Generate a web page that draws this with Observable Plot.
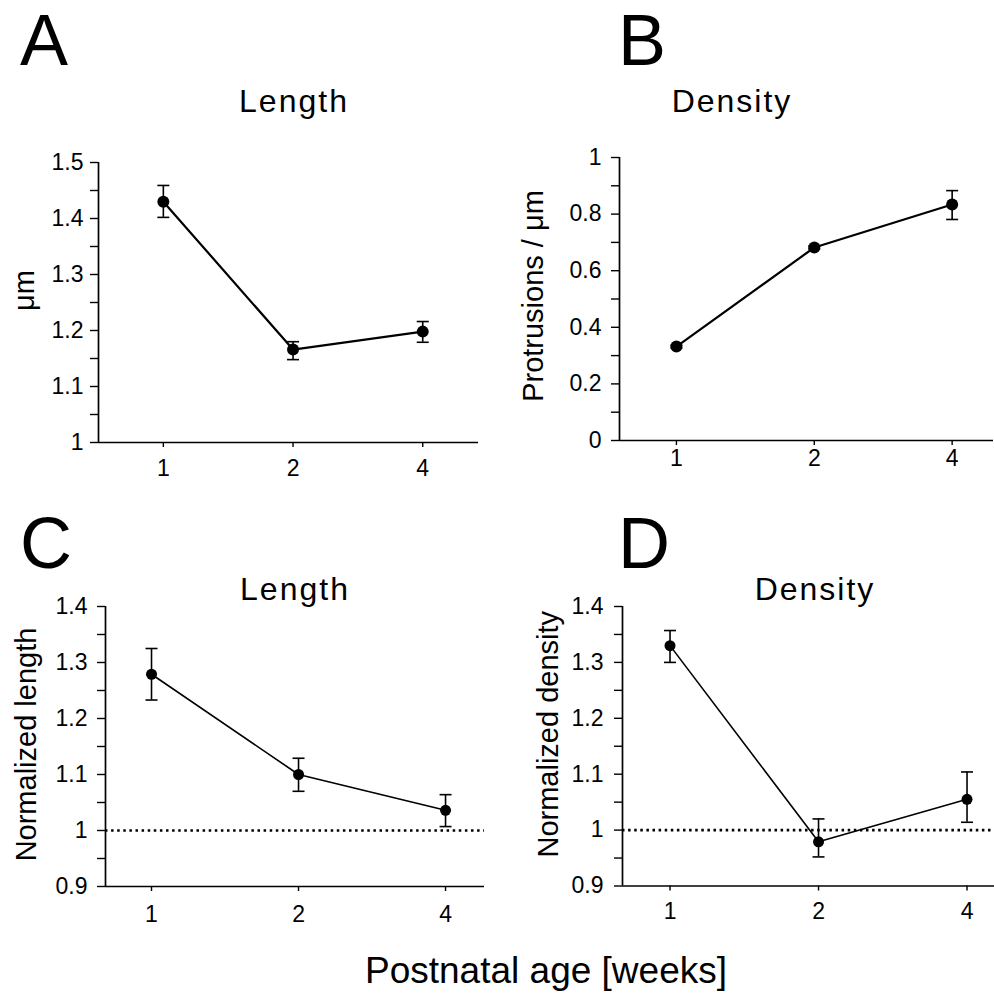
<!DOCTYPE html>
<html><head><meta charset="utf-8">
<script src="https://cdn.jsdelivr.net/npm/d3@7"></script>
<script src="https://cdn.jsdelivr.net/npm/@observablehq/plot@0.6"></script>
<style>
body{margin:0;background:#fff;}
#fig{position:relative;width:994px;height:995px;font-family:"Liberation Sans",Arial,sans-serif;color:#000;overflow:hidden;background:#fff}
.t{position:absolute;line-height:1;white-space:nowrap;text-align:center}
.p{position:absolute}
</style></head><body><div id="fig"></div>
<script>
const weeks = ["1", "2", "4"];
const lengthMean = [1.430, 1.166, 1.198];
const lengthLo = [1.402, 1.148, 1.179];
const lengthHi = [1.459, 1.180, 1.216];
const densityMean = [0.332, 0.682, 0.834];
const densityLo = [0.327, 0.677, 0.781];
const densityHi = [0.337, 0.687, 0.883];
const normLengthMean = [1.279, 1.100, 1.036];
const normLengthLo = [1.233, 1.070, 1.007];
const normLengthHi = [1.325, 1.129, 1.064];
const normDensityMean = [1.330, 0.979, 1.055];
const normDensityLo = [1.300, 0.952, 1.014];
const normDensityHi = [1.357, 1.020, 1.104];

const panelLetters = ["A", "B", "C", "D"];
const panelTitles = ["Length", "Density", "Length", "Density"];
const yLabels = ["μm", "Protrusions / μm", "Normalized length", "Normalized density"];
const xTitle = "Postnatal age [weeks]";

const fig = document.getElementById("fig");
const cap = {draw(ctx, size) { const r = Math.sqrt(size / Math.PI); ctx.moveTo(-r, 0); ctx.lineTo(r, 0); }};

function panel(c) {
  const data = weeks.map((w, i) => ({pos: i + 1, week: w, mean: c.mean[i], lo: c.lo[i], hi: c.hi[i]}));
  const marks = [
    Plot.axisY({ticks: c.yMajor, tickFormat: "~g", tickSize: 8, tickPadding: c.yPad, strokeWidth: 1.4, fontSize: 23, label: null}),
    Plot.axisY({ticks: c.yMinor, tickFormat: () => "", tickSize: 8, strokeWidth: 1.4, label: null}),
    Plot.axisX({ticks: [1, 2, 3], tickFormat: i => weeks[i - 1], tickSize: 5, tickPadding: c.xPad, strokeWidth: 1.4, fontSize: 23, label: null}),
    Plot.ruleX([c.xDomain[0]], {strokeWidth: 1.7}),
    Plot.ruleY([c.yDomain[0]], {strokeWidth: 1.7})
  ];
  if (c.ref) marks.push(Plot.ruleY([1], {strokeDasharray: "2.5,3.6", strokeWidth: 2.6}));
  marks.push(
    Plot.ruleX(data, {x: "pos", y1: "lo", y2: "hi", strokeWidth: 1.6}),
    Plot.dot(data, {x: "pos", y: "lo", symbol: cap, r: 6, stroke: "black", fill: "none", strokeWidth: 1.6}),
    Plot.dot(data, {x: "pos", y: "hi", symbol: cap, r: 6, stroke: "black", fill: "none", strokeWidth: 1.6}),
    Plot.line(data, {x: "pos", y: "mean", stroke: "black", strokeWidth: c.lw}),
    Plot.dot(data, {x: "pos", y: "mean", r: c.r, fill: "black", stroke: "none"}),
    Plot.text([c.ylabel], {text: d => d, frameAnchor: "left", textAnchor: "middle", rotate: -90, dx: -c.labelOffset, dy: c.labelDy, lineAnchor: "top", fontSize: 29})
  );
  const svg = Plot.plot({
    width: c.w, height: c.h,
    marginLeft: c.ml, marginRight: c.mr, marginTop: c.mt, marginBottom: c.mb,
    x: {type: "linear", domain: c.xDomain},
    y: {type: "linear", domain: c.yDomain},
    style: {fontFamily: "Liberation Sans, Arial, sans-serif", fontSize: "23px", color: "black", background: "white", overflow: "visible"},
    marks
  });
  const wrap = document.createElement("div");
  wrap.className = "p";
  wrap.style.left = c.left + "px";
  wrap.style.top = c.top + "px";
  wrap.appendChild(svg);
  fig.appendChild(wrap);
}

panel({left: 0, top: 130, w: 497, h: 360, ml: 98, mr: 19, mt: 32, mb: 48,
  xDomain: [0.5, 3.43], yDomain: [1, 1.5],
  yMajor: [1, 1.1, 1.2, 1.3, 1.4, 1.5], yMinor: [1.05, 1.15, 1.25, 1.35, 1.45],
  yPad: 7, xPad: 12, mean: lengthMean, lo: lengthLo, hi: lengthHi,
  lw: 2.2, r: 6, ylabel: yLabels[0], labelOffset: 85, labelDy: -12});
panel({left: 497, top: 130, w: 497, h: 360, ml: 122, mr: 1, mt: 27, mb: 50,
  xDomain: [0.587, 3.30], yDomain: [0, 1],
  yMajor: [0, 0.2, 0.4, 0.6, 0.8, 1], yMinor: [0.1, 0.3, 0.5, 0.7, 0.9],
  yPad: 10, xPad: 4, mean: densityMean, lo: densityLo, hi: densityHi,
  lw: 2.2, r: 6, ylabel: yLabels[1], labelOffset: 97, labelDy: -3});
panel({left: 0, top: 570, w: 497, h: 360, ml: 105, mr: 13, mt: 36, mb: 44,
  xDomain: [0.687, 3.265], yDomain: [0.9, 1.4],
  yMajor: [0.9, 1, 1.1, 1.2, 1.3, 1.4], yMinor: [0.95, 1.05, 1.15, 1.25, 1.35],
  yPad: 10, xPad: 14, mean: normLengthMean, lo: normLengthLo, hi: normLengthHi, ref: true,
  lw: 1.6, r: 5.5, ylabel: yLabels[2], labelOffset: 90, labelDy: -2});
panel({left: 497, top: 570, w: 497, h: 360, ml: 125, mr: 0, mt: 36, mb: 44.5,
  xDomain: [0.68, 3.185], yDomain: [0.9, 1.4],
  yMajor: [0.9, 1, 1.1, 1.2, 1.3, 1.4], yMinor: [0.95, 1.05, 1.15, 1.25, 1.35],
  yPad: 11, xPad: 12, mean: normDensityMean, lo: normDensityLo, hi: normDensityHi, ref: true,
  lw: 1.6, r: 5.5, ylabel: yLabels[3], labelOffset: 85, labelDy: -12});

function addText(str, x, baseline, fs, opts = {}) {
  const d = document.createElement("div");
  d.className = "t";
  d.textContent = str;
  d.style.fontSize = fs + "px";
  d.style.top = (baseline - 0.8465 * fs) + "px";
  if (opts.center) { d.style.left = (x - 300) + "px"; d.style.width = "600px"; }
  else { d.style.left = x + "px"; d.style.textAlign = "left"; }
  if (opts.ls) d.style.letterSpacing = opts.ls + "px";
  fig.appendChild(d);
}
addText(panelLetters[0], 20, 65, 72);
addText(panelLetters[1], 618, 65, 72);
addText(panelLetters[2], 20, 568, 72);
addText(panelLetters[3], 618, 568, 72);
addText(panelTitles[0], 294, 112, 32, {center: true, ls: 2});
addText(panelTitles[1], 732, 112, 32, {center: true, ls: 2});
addText(panelTitles[2], 295, 600, 32, {center: true, ls: 2});
addText(panelTitles[3], 815, 600, 32, {center: true, ls: 2});
addText(xTitle, 546, 983, 37, {center: true});
</script></body></html>
